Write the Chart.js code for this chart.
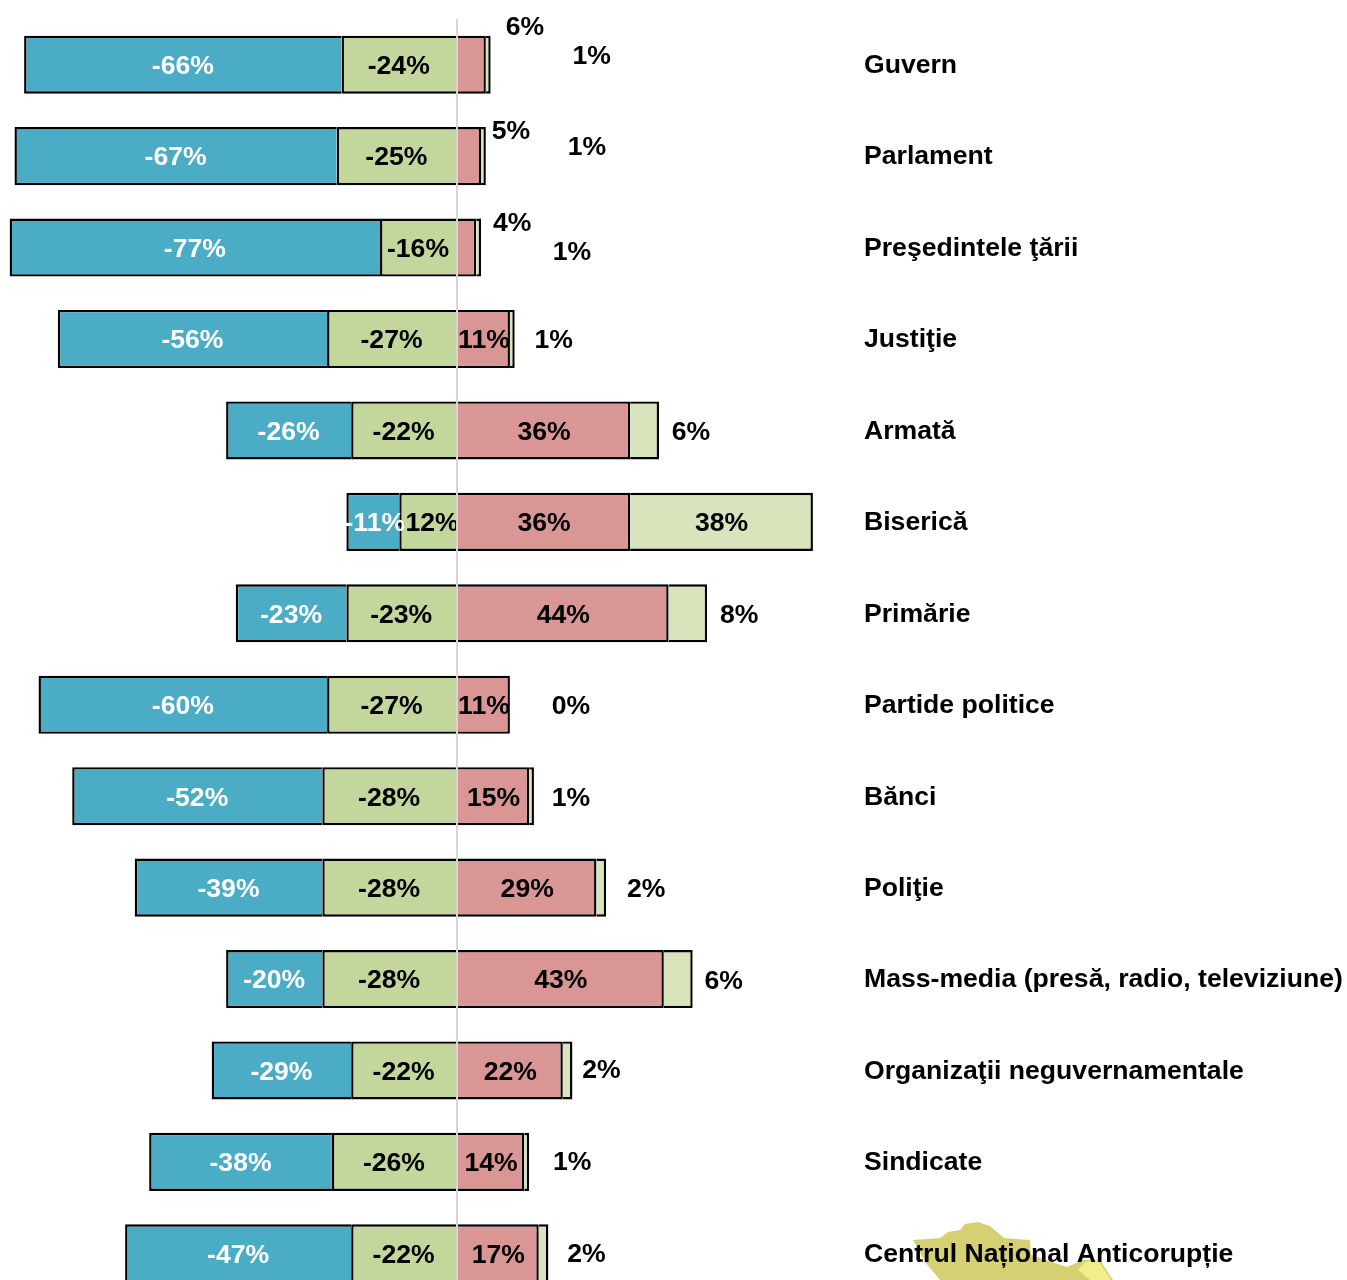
<!DOCTYPE html>
<html>
<head>
<meta charset="utf-8">
<title>Încredere în instituții</title>
<script src="https://cdn.jsdelivr.net/npm/chart.js@4"></script>
<style>
html, body { margin: 0; padding: 0; background: #fff; overflow: hidden; height: 1280px; }
#wrap { position: relative; width: 1347px; height: 1315px; }
</style>
</head>
<body>
<div id="wrap"><canvas id="trustChart"></canvas></div>
<script>
// values in percent, one entry per institution
var categories = ['Guvern', 'Parlament', 'Preşedintele ţării', 'Justiţie', 'Armată', 'Biserică', 'Primărie',
  'Partide politice', 'Bănci', 'Poliţie', 'Mass-media (presă, radio, televiziune)',
  'Organizaţii neguvernamentale', 'Sindicate', 'Centrul Național Anticorupție'];
var veryLow = [-66, -67, -77, -56, -26, -11, -23, -60, -52, -39, -20, -29, -38, -47];
var low = [-24, -25, -16, -27, -22, -12, -23, -27, -28, -28, -28, -22, -26, -22];
var high = [6, 5, 4, 11, 36, 36, 44, 11, 15, 29, 43, 22, 14, 17];
var veryHigh = [1, 1, 1, 1, 6, 38, 8, 0, 1, 2, 6, 2, 1, 2];

// hand placed labels: [dx, dy] in px from the end of the bar, null = centred in the segment
var highOutside = [[39, -39], [30, -26], [36, -26], null, null, null, null, null, null, null, null, null, null, null];
var veryHighOutside = [[101, -10], [101, -10], [91, 3], [39, 0], [32, 0], null, [32, 0], [61, 0], [37, 0], [40, 0],
  [31, 1], [29, -2], [43, -1], [38, -1]];
var insideNudge = { '1,5': 2 };

var FONT = '"Liberation Sans", Arial, sans-serif';
var FONT_SIZE = 26.6;

// faint logo behind the last category
var logoPlugin = {
  id: 'logo',
  beforeDraw: function (chart) {
    var c = chart.ctx;
    c.save();
    c.fillStyle = '#d5d172';
    c.beginPath();
    c.moveTo(913, 1240); c.lineTo(940, 1238); c.lineTo(948, 1232); c.lineTo(960, 1230); c.lineTo(965, 1224);
    c.lineTo(978, 1222); c.lineTo(990, 1226); c.lineTo(1004, 1238); c.lineTo(1030, 1240); c.lineTo(1031, 1255);
    c.lineTo(1067, 1267); c.lineTo(1083, 1260); c.lineTo(1100, 1260); c.lineTo(1113, 1280);
    c.lineTo(940, 1280); c.lineTo(925, 1262);
    c.closePath();
    c.fill();
    c.fillStyle = '#f2ee8e';
    c.beginPath();
    c.moveTo(1085, 1262); c.lineTo(1098, 1260); c.lineTo(1111, 1280); c.lineTo(1090, 1280); c.lineTo(1078, 1270);
    c.closePath();
    c.fill();
    c.restore();
  }
};

var labelPlugin = {
  id: 'barLabels',
  afterDatasetsDraw: function (chart) {
    var c = chart.ctx;
    var xs = chart.scales.x;
    c.save();
    c.font = 'bold ' + FONT_SIZE + 'px ' + FONT;
    c.textAlign = 'center';
    c.textBaseline = 'middle';
    chart.data.datasets.forEach(function (ds, d) {
      var bars = chart.getDatasetMeta(d).data;
      bars.forEach(function (bar, i) {
        var outside = d === 2 ? highOutside[i] : d === 3 ? veryHighOutside[i] : null;
        var x = (bar.x + bar.base) / 2 + (insideNudge[d + ',' + i] || 0);
        var y = bar.y + 2;
        c.fillStyle = d === 1 ? '#ffffff' : '#000000';
        if (outside) {
          // a zero value stacks on the negative side, so take the end from the scale
          var end = d === 2 ? high[i] : high[i] + veryHigh[i];
          x = xs.getPixelForValue(end) + outside[0];
          y = bar.y + 2 + outside[1];
        }
        c.fillText(ds.data[i] + '%', x, y);
      });
    });
    c.restore();
  }
};

function makeSet(name, values, color) {
  return {
    label: name,
    data: values,
    backgroundColor: color,
    borderColor: '#000000',
    borderWidth: 2.4,
    barPercentage: 1,
    categoryPercentage: 58 / 91.3
  };
}

new Chart(document.getElementById('trustChart'), {
  type: 'bar',
  data: {
    labels: categories,
    datasets: [
      makeSet('Puțină', low, '#c3d69b'),
      makeSet('Foarte puțină', veryLow, '#4bacc6'),
      makeSet('Multă', high, '#d99694'),
      makeSet('Foarte multă', veryHigh, '#d8e4bc')
    ]
  },
  plugins: [logoPlugin, labelPlugin],
  options: {
    indexAxis: 'y',
    responsive: true,
    maintainAspectRatio: false,
    animation: false,
    layout: { padding: { top: 19, left: 0, right: 0, bottom: 0 } },
    plugins: { legend: { display: false }, tooltip: { enabled: false }, title: { display: false } },
    scales: {
      x: {
        stacked: true,
        min: -95.01,
        max: 84.62,
        afterFit: function (scale) { scale.height = 0; },
        // only the zero line is wanted
        afterBuildTicks: function (scale) { scale.ticks = [{ value: 0 }]; },
        border: { display: false },
        ticks: { display: false },
        grid: { z: 1, drawTicks: false, lineWidth: 2, color: '#d6d6d6' }
      },
      y: {
        stacked: true,
        position: 'right',
        afterFit: function (scale) { scale.width = 483; },
        border: { display: false },
        grid: { display: false, drawTicks: false, tickLength: 0 },
        ticks: {
          padding: 0,
          labelOffset: 1,
          autoSkip: false,
          color: '#000000',
          font: { family: FONT, size: FONT_SIZE, weight: 'bold' }
        }
      }
    }
  }
});
</script>
</body>
</html>
